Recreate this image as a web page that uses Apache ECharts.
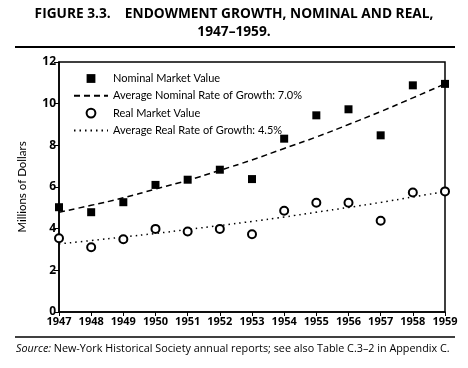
<!DOCTYPE html>
<html><head><meta charset="utf-8">
<script src="https://cdn.jsdelivr.net/npm/echarts@6/dist/echarts.min.js"></script>
<style>html,body{margin:0;padding:0;background:#fff}#c{width:468px;height:368px}</style>
</head><body><div id="c"></div>
<script>
const years = ['1947','1948','1949','1950','1951','1952','1953','1954','1955','1956','1957','1958','1959'];
const nominalValue = [5.03, 4.79, 5.27, 6.10, 6.35, 6.83, 6.38, 8.32, 9.44, 9.73, 8.48, 10.88, 10.95];
const realValue = [3.54, 3.11, 3.49, 3.99, 3.86, 3.99, 3.73, 4.86, 5.24, 5.24, 4.38, 5.74, 5.79];
const nominalTrend = [4.79, 5.12, 5.48, 5.90, 6.32, 6.80, 7.30, 7.85, 8.40, 9.00, 9.62, 10.28, 10.95];
const realTrend = [3.27, 3.43, 3.60, 3.77, 3.96, 4.15, 4.35, 4.56, 4.79, 5.02, 5.26, 5.52, 5.78];
const yMin = 0, yMax = 12, yStep = 2;
const names = ['Nominal Market Value', 'Average Nominal Rate of Growth: 7.0%', 'Real Market Value', 'Average Real Rate of Growth: 4.5%'];
const titleLine1 = 'FIGURE 3.3.\u00a0\u00a0\u00a0\u00a0ENDOWMENT GROWTH, NOMINAL AND REAL,';
const titleLine2 = '1947\u20131959.';
const F = '"Open Sans", "Noto Sans", sans-serif';
const L = 'Lato, "Open Sans", sans-serif';

const chart = echarts.init(document.getElementById('c'), null, {renderer: 'canvas'});
chart.setOption({
  animation: false,
  backgroundColor: '#fff',
  textStyle: {fontFamily: F, color: '#000'},
  title: [{
    text: '{i|Source:} New-York Historical Society annual reports; see also Table C.3\u20132 in Appendix C.',
    left: 16, top: 343, padding: 0,
    textStyle: {fontFamily: F, fontSize: 10.8, fontWeight: 'normal', color: '#000',
      rich: {i: {fontFamily: F, fontSize: 10.8, fontStyle: 'italic', fontWeight: 'normal', color: '#000'}}}
  }],
  graphic: [
    {type: 'text', x: 234, y: 14, style: {text: titleLine1, align: 'center', verticalAlign: 'middle', fill: '#000', font: 'bold 13.7px ' + F}},
    {type: 'text', x: 234, y: 32, style: {text: titleLine2, align: 'center', verticalAlign: 'middle', fill: '#000', font: 'bold 13.7px ' + F}},
    {type: 'line', shape: {x1: 15, y1: 47, x2: 455, y2: 47}, style: {stroke: '#000', lineWidth: 2}},
    {type: 'line', shape: {x1: 15, y1: 337, x2: 455, y2: 337}, style: {stroke: '#000', lineWidth: 1.5}}
  ],
  grid: {left: 59, right: 23, top: 62, bottom: 56, show: true, borderColor: '#000', borderWidth: 1.5, backgroundColor: 'transparent'},
  legend: {
    orient: 'vertical', left: 73, top: 73, padding: 0, itemWidth: 34, itemHeight: 11, itemGap: 6.3,
    textStyle: {fontFamily: L, fontSize: 11, color: '#000'},
    data: [
      {name: names[0]},
      {name: names[1], itemStyle: {opacity: 0}},
      {name: names[2]},
      {name: names[3], itemStyle: {opacity: 0}}
    ]
  },
  xAxis: {
    type: 'category', data: years, boundaryGap: false,
    axisLine: {lineStyle: {color: '#000', width: 1.5}},
    axisTick: {show: true, length: 4, interval: 0, lineStyle: {color: '#000'}},
    axisLabel: {fontFamily: F, fontWeight: 'bold', fontSize: 11, color: '#000', margin: 4, interval: 0, hideOverlap: false}
  },
  yAxis: {
    type: 'value', min: yMin, max: yMax, interval: yStep,
    name: 'Millions of Dollars', nameLocation: 'middle', nameGap: 31,
    nameTextStyle: {fontFamily: L, fontSize: 11.5, color: '#000'},
    splitLine: {show: false},
    axisLine: {show: true, lineStyle: {color: '#000', width: 1.5}},
    axisTick: {show: true, length: 5, lineStyle: {color: '#000'}},
    axisLabel: {fontFamily: F, fontWeight: 'bold', fontSize: 12, color: '#000', margin: 3}
  },
  series: [
    {name: names[0], type: 'line', data: nominalValue, symbol: 'rect', symbolSize: 8,
     itemStyle: {color: '#000'}, lineStyle: {opacity: 0, width: 0}, z: 5},
    {name: names[1], type: 'line', data: nominalTrend, symbol: 'none', smooth: true,
     itemStyle: {color: '#000'}, lineStyle: {color: '#000', width: 1.5, type: [6, 4]}, z: 3},
    {name: names[2], type: 'line', data: realValue, symbol: 'emptyCircle', symbolSize: 8,
     itemStyle: {color: '#000', borderWidth: 1.3}, lineStyle: {opacity: 0, width: 0}, z: 5},
    {name: names[3], type: 'line', data: realTrend, symbol: 'none', smooth: true,
     itemStyle: {color: '#000'}, lineStyle: {color: '#000', width: 1.5, type: [1.5, 4]}, z: 3}
  ]
});
</script></body></html>
